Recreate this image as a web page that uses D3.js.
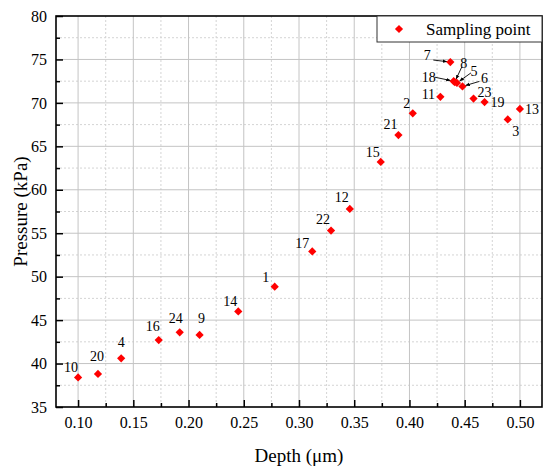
<!DOCTYPE html>
<html lang="en">
<head>
<meta charset="utf-8">
<script src="https://d3js.org/d3.v7.min.js"></script>
<title>Pressure vs Depth</title>
<style>
  body { margin: 0; background: #fff; }
</style>
</head>
<body>
<div id="chart"></div>
<script>
// sampling point numbers, depth (um) and pressure (kPa)
var pointIds = [10, 20, 4, 16, 24, 9, 14, 1, 17, 22, 12, 15, 21, 2, 11, 7, 18, 8, 5, 6, 23, 19, 3, 13];
var depth    = [0.100, 0.118, 0.139, 0.173, 0.192, 0.210, 0.245, 0.278, 0.312, 0.329, 0.346, 0.374,
                0.390, 0.403, 0.428, 0.437, 0.440, 0.441, 0.443, 0.448, 0.458, 0.468, 0.489, 0.500];
var pressure = [38.4, 38.8, 40.6, 42.7, 43.6, 43.3, 46.0, 48.85, 52.9, 55.3, 57.8, 63.2,
                66.3, 68.8, 70.7, 74.7, 72.5, 72.4, 72.3, 71.9, 70.5, 70.1, 68.1, 69.3];
var xTicks = [0.10, 0.15, 0.20, 0.25, 0.30, 0.35, 0.40, 0.45, 0.50];
var yTicks = [35, 40, 45, 50, 55, 60, 65, 70, 75, 80];
var legendLabel = "Sampling point";

var serif = "'Liberation Serif', 'Times New Roman', Times, 'Noto Serif', 'DejaVu Serif', serif";

var margin = {top: 16, right: 8, bottom: 68, left: 56},
    width = 550 - margin.left - margin.right,
    height = 475 - margin.top - margin.bottom;

var svg = d3.select("#chart").append("svg")
    .attr("width", 550)
    .attr("height", 475)
    .attr("font-family", serif)
  .append("g")
    .attr("transform", "translate(" + margin.left + "," + margin.top + ")");

var x = d3.scaleLinear().domain([0.08, 0.52]).range([0, width]);
var y = d3.scaleLinear().domain([35, 80]).range([height, 0]);

// minor ticks halfway between the major ones
var xMinor = xTicks.map(function(t) { return t + 0.025; }).filter(function(t) { return t < 0.52; });
var yMinor = yTicks.slice(0, -1).map(function(t) { return t + 2.5; });

// minor grid (dotted)
svg.append("g").selectAll("line").data(xMinor)
  .enter().append("line")
    .attr("x1", function(d) { return x(d); }).attr("x2", function(d) { return x(d); })
    .attr("y1", 0).attr("y2", height)
    .attr("stroke", "#d4d4d4").attr("stroke-dasharray", "2,2");
svg.append("g").selectAll("line").data(yMinor)
  .enter().append("line")
    .attr("y1", function(d) { return y(d); }).attr("y2", function(d) { return y(d); })
    .attr("x1", 0).attr("x2", width)
    .attr("stroke", "#d4d4d4").attr("stroke-dasharray", "2,2");

// major grid
svg.append("g").selectAll("line").data(xTicks)
  .enter().append("line")
    .attr("x1", function(d) { return x(d); }).attr("x2", function(d) { return x(d); })
    .attr("y1", 0).attr("y2", height)
    .attr("stroke", "#c4c4c4");
svg.append("g").selectAll("line").data(yTicks.slice(1, -1))
  .enter().append("line")
    .attr("y1", function(d) { return y(d); }).attr("y2", function(d) { return y(d); })
    .attr("x1", 0).attr("x2", width)
    .attr("stroke", "#c4c4c4");

// axes, ticks pointing inward
var xAxis = svg.append("g")
    .attr("transform", "translate(0," + height + ")")
    .call(d3.axisBottom(x).tickValues(xTicks).tickFormat(d3.format(".2f")).tickSizeInner(-7).tickSizeOuter(0).tickPadding(10));
var xAxisMinor = svg.append("g")
    .attr("transform", "translate(0," + height + ")")
    .call(d3.axisBottom(x).tickValues(xMinor).tickFormat("").tickSizeInner(-4).tickSizeOuter(0));
var yAxis = svg.append("g")
    .call(d3.axisLeft(y).tickValues(yTicks).tickFormat(d3.format("d")).tickSizeInner(-7).tickSizeOuter(0).tickPadding(9));
var yAxisMinor = svg.append("g")
    .call(d3.axisLeft(y).tickValues(yMinor).tickFormat("").tickSizeInner(-4).tickSizeOuter(0));

[xAxis, xAxisMinor, yAxis, yAxisMinor].forEach(function(a) {
  a.attr("font-family", serif).attr("font-size", 16);
  a.select(".domain").remove();
  a.selectAll(".tick line").attr("stroke", "#000").attr("stroke-width", 1.5);
  a.selectAll("text").attr("fill", "#000");
});
xAxis.selectAll("text").attr("dy", "0.71em");

// frame
svg.append("rect")
    .attr("width", width).attr("height", height)
    .attr("fill", "none").attr("stroke", "#000").attr("stroke-width", 1.6);

// label placement (pixels relative to each point); arrows for the crowded cluster
var labelPos = {
  10: [-7, -10], 20: [-1, -17], 4: [0, -16], 16: [-6, -14], 24: [-4, -14], 9: [2, -16],
  14: [-8, -10], 1: [-9, -9], 17: [-10, -8], 22: [-8, -11], 12: [-8, -11], 15: [-8, -9],
  21: [-8, -11], 2: [-6, -10], 11: [-12, -2], 23: [11, -6], 19: [13, 0], 3: [8, 12], 13: [12, 1],
  7: [-23, -7], 18: [-25, -4], 8: [9, -19], 5: [17, -11], 6: [22, -8]
};
var arrowFrom = {
  7: [-17, -2], 18: [-19, -4], 8: [7, -15], 5: [14, -10], 6: [17, -5]
};

svg.append("defs").append("marker")
    .attr("id", "arrowhead")
    .attr("viewBox", "0 0 10 10")
    .attr("refX", 10).attr("refY", 5)
    .attr("markerWidth", 5).attr("markerHeight", 5)
    .attr("orient", "auto")
  .append("path").attr("d", "M0,1 L10,5 L0,9 z").attr("fill", "#000");

var pts = pointIds.map(function(id, i) { return {id: id, d: depth[i], p: pressure[i]}; });

svg.append("g").selectAll("line")
    .data(pts.filter(function(d) { return arrowFrom[d.id]; }))
  .enter().append("line")
    .attr("x1", function(d) { return x(d.d) + arrowFrom[d.id][0]; })
    .attr("y1", function(d) { return y(d.p) + arrowFrom[d.id][1]; })
    .attr("x2", function(d) {
      var a = arrowFrom[d.id], len = Math.hypot(a[0], a[1]);
      return x(d.d) + a[0] * 3 / len;
    })
    .attr("y2", function(d) {
      var a = arrowFrom[d.id], len = Math.hypot(a[0], a[1]);
      return y(d.p) + a[1] * 3 / len;
    })
    .attr("stroke", "#000").attr("stroke-width", 0.9)
    .attr("marker-end", "url(#arrowhead)");

var diamond = d3.symbol().type(d3.symbolSquare).size(34);

svg.append("g").selectAll("path")
    .data(pts)
  .enter().append("path")
    .attr("d", diamond)
    .attr("transform", function(d) { return "translate(" + x(d.d) + "," + y(d.p) + ") rotate(45)"; })
    .attr("fill", "#ff0000");

svg.append("g").selectAll("text")
    .data(pts)
  .enter().append("text")
    .attr("x", function(d) { return x(d.d) + labelPos[d.id][0]; })
    .attr("y", function(d) { return y(d.p) + labelPos[d.id][1]; })
    .attr("text-anchor", "middle")
    .attr("dominant-baseline", "central")
    .attr("font-family", serif)
    .attr("font-size", 14)
    .text(function(d) { return d.id; });

// legend in top right corner
var legend = svg.append("g").attr("transform", "translate(" + (width - 165) + ",0)");
legend.append("rect")
    .attr("width", 165).attr("height", 26)
    .attr("fill", "#fff").attr("stroke", "#333").attr("stroke-width", 1);
legend.append("path")
    .attr("d", diamond)
    .attr("transform", "translate(22,13) rotate(45)")
    .attr("fill", "#ff0000");
legend.append("text")
    .attr("x", 49).attr("y", 19)
    .attr("font-family", serif)
    .attr("font-size", 17)
    .text(legendLabel);

// axis titles
svg.append("text")
    .attr("text-anchor", "middle")
    .attr("x", x(0.30))
    .attr("y", height + 55)
    .attr("font-family", serif)
    .attr("font-size", 19)
    .text("Depth (\u03bcm)");

svg.append("text")
    .attr("text-anchor", "middle")
    .attr("transform", "rotate(-90)")
    .attr("x", -(y(57.5)))
    .attr("y", -29)
    .attr("font-family", serif)
    .attr("font-size", 19)
    .text("Pressure (kPa)");
</script>
</body>
</html>
